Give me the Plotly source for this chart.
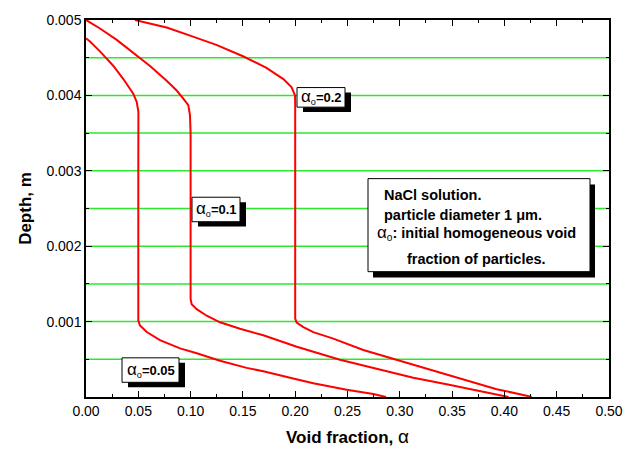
import plotly.graph_objects as go

# Void fraction profiles through the deposit depth for three initial void fractions
alpha_005_x = [0.0, 0.0038, 0.0134, 0.0262, 0.0357, 0.0421, 0.0452, 0.0485, 0.0501, 0.0500,
               0.0500, 0.0500, 0.0516, 0.0581, 0.0707, 0.0899, 0.1059, 0.1281, 0.1536,
               0.1695, 0.1951, 0.2173, 0.2492, 0.2747, 0.2868]
alpha_005_y = [0.004757, 0.004714, 0.004584, 0.004390, 0.004217, 0.004087, 0.004022, 0.003913,
               0.003783, 0.0030, 0.0015, 0.001013, 0.000948, 0.000861, 0.000753, 0.000645,
               0.000580, 0.000481, 0.000386, 0.000342, 0.000256, 0.000182, 0.000095,
               0.000039, 0.0]

alpha_01_x = [0.0, 0.0134, 0.0294, 0.0452, 0.0612, 0.0771, 0.0867, 0.0930, 0.0978, 0.0994,
              0.1000, 0.1000, 0.1010, 0.1058, 0.1154, 0.1281, 0.1472, 0.1695, 0.2015,
              0.2428, 0.2811, 0.3129, 0.3448, 0.3767, 0.3990, 0.4040]
alpha_01_y = [0.005, 0.004887, 0.004736, 0.004562, 0.004390, 0.004195, 0.004065, 0.003957,
              0.003870, 0.003740, 0.0035, 0.0013, 0.00123, 0.001165, 0.001078, 0.000991,
              0.000905, 0.000818, 0.000666, 0.000494, 0.000364, 0.000256, 0.000169,
              0.000082, 0.000013, 0.0]

alpha_02_x = [0.0468, 0.0612, 0.0771, 0.1023, 0.1246, 0.1501, 0.1721, 0.1887, 0.1966, 0.1998,
              0.2000, 0.2000, 0.2000, 0.2014, 0.2078, 0.2173, 0.2364, 0.2651, 0.2971,
              0.3289, 0.3608, 0.3926, 0.4212, 0.4260]
alpha_02_y = [0.005, 0.004952, 0.0049, 0.004779, 0.004671, 0.004519, 0.004368, 0.004217,
              0.004108, 0.004, 0.00387, 0.0011, 0.001039, 0.000987, 0.000926, 0.000861,
              0.000775, 0.000623, 0.000494, 0.000364, 0.000234, 0.000104, 0.000017, 0.0]

series = [(alpha_005_x, alpha_005_y), (alpha_01_x, alpha_01_y), (alpha_02_x, alpha_02_y)]

x_ticks = [0.0, 0.05, 0.10, 0.15, 0.20, 0.25, 0.30, 0.35, 0.40, 0.45, 0.50]
x_tick_text = ["0.00", "0.05", "0.10", "0.15", "0.20", "0.25", "0.30", "0.35", "0.40", "0.45", "0.50"]
y_ticks = [0.001, 0.002, 0.003, 0.004, 0.005]
y_tick_text = ["0.001", "0.002", "0.003", "0.004", "0.005"]
y_grid = [0.0005, 0.001, 0.0015, 0.002, 0.0025, 0.003, 0.0035, 0.004, 0.0045]

curve_labels = ["=0.05", "=0.1", "=0.2"]
note_lines = ["NaCl solution.", "particle diameter 1 \u03bcm.",
              ": initial homogeneous void", "fraction of particles."]

W, H = 638, 456
L, R, T, B = 86, 29, 13, 58
PW, PH = W - L - R, H - T - B
FONT = "Liberation Sans, Arial, sans-serif"
GREEN = "#2ee82e"


def px(x):
    return (x - L) / PW


def py(y):
    return (H - B - y) / PH


fig = go.Figure()
# horizontal green rules at every half-millimetre of depth
for d in y_grid:
    fig.add_hline(y=d, line=dict(color=GREEN, width=1.5), layer="below")

for xs, ys in series:
    fig.add_trace(go.Scatter(x=xs, y=ys, mode="lines",
                             line=dict(color="#ff0000", width=2), showlegend=False,
                             hoverinfo="skip"))

shapes = []
annotations = []


def boxed(x0, y0, x1, y1, shadow=(6, 5)):
    dx, dy = shadow
    shapes.append(dict(type="rect", xref="paper", yref="paper",
                       x0=px(x0 + dx), x1=px(x1 + dx), y0=py(y1 + dy), y1=py(y0 + dy),
                       fillcolor="black", line=dict(width=0), layer="above"))
    shapes.append(dict(type="rect", xref="paper", yref="paper",
                       x0=px(x0), x1=px(x1), y0=py(y1), y1=py(y0),
                       fillcolor="white", line=dict(color="black", width=1), layer="above"))


ALPHA_O = "<span style='font-size:17px'>\u03b1</span><sub>o</sub>"

# curve labels
label_boxes = [(122, 358, 179, 383), (192, 194, 240, 219), (297, 82, 345, 102)]
for text, (x0, y0, x1, y1) in zip(curve_labels, label_boxes):
    boxed(x0, y0, x1, y1)
    annotations.append(dict(xref="paper", yref="paper", x=px((x0 + x1) / 2), y=py((y0 + y1) / 2),
                            text=ALPHA_O + "<b>" + text + "</b>",
                            showarrow=False, xanchor="center", yanchor="middle",
                            font=dict(family=FONT, size=13, color="black")))

# description box
boxed(368, 175, 590, 270, shadow=(5, 6))
note_pos = [(382, 192), (382, 212), (375, 231), (405, 257)]
for i, (text, (x, y)) in enumerate(zip(note_lines, note_pos)):
    prefix = ALPHA_O if i == 2 else ""
    annotations.append(dict(xref="paper", yref="paper", x=px(x), y=py(y),
                            text=prefix + "<b>" + text + "</b>",
                            showarrow=False, xanchor="left", yanchor="middle",
                            font=dict(family=FONT, size=14.5, color="black")))

for s in shapes:
    fig.add_shape(**s)

fig.update_layout(
    width=W, height=H,
    margin=dict(l=L, r=R, t=T, b=B, pad=0),
    paper_bgcolor="white", plot_bgcolor="white",
    font=dict(family=FONT, size=14, color="black"),
    annotations=annotations,
    xaxis=dict(range=[0, 0.5], tickvals=x_ticks, ticktext=x_tick_text,
               ticks="inside", ticklen=6, tickwidth=1, tickcolor="black",
               showline=True, linecolor="black", linewidth=1.5, mirror="allticks",
               showgrid=False, zeroline=False,
               minor=dict(dtick=0.025, ticks="inside", ticklen=3, tickcolor="black", showgrid=False),
               tickfont=dict(size=14),
               title=dict(text="<b>Void fraction,</b> <span style='font-size:19px'>\u03b1</span>",
                          font=dict(size=17), standoff=14)),
    yaxis=dict(range=[0, 0.005], tickvals=y_ticks, ticktext=y_tick_text,
               ticks="inside", ticklen=6, tickwidth=1, tickcolor="black",
               showline=True, linecolor="black", linewidth=1.5, mirror="allticks",
               showgrid=False, zeroline=False,
               minor=dict(dtick=0.0005, ticks="inside", ticklen=3, tickcolor="black", showgrid=False),
               tickfont=dict(size=14),
               title=dict(text="<b>Depth, m</b>", font=dict(size=17), standoff=10)),
)

fig.write_html("out.html")
